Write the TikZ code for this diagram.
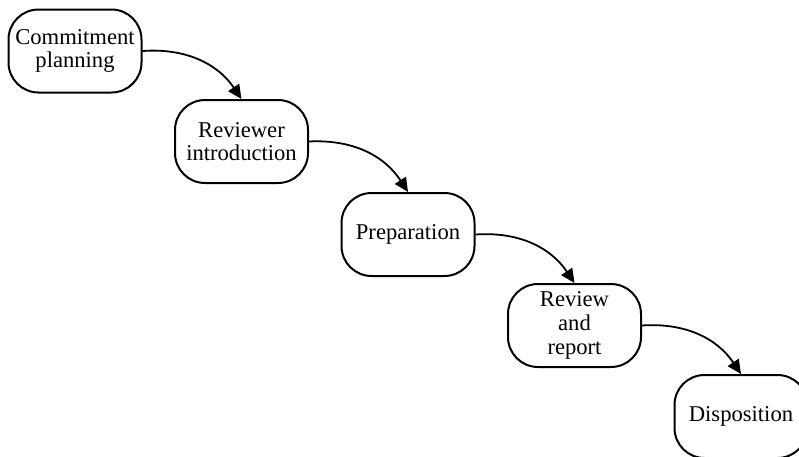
\documentclass[tikz,border=0pt]{standalone}
\usepackage{fontspec}
\setmainfont{Liberation Serif}
\usetikzlibrary{arrows.meta,positioning}
\tikzset{
  phase/.style={draw, line width=1pt, rounded corners=15pt, minimum width=66.5pt,
    minimum height=41.5pt, align=center, font=\fontsize{11.3}{11.8}\selectfont, inner sep=2pt},
  flow/.style={-{Triangle[length=7pt, width=6.5pt]}, line width=0.9pt, bend left=30}
}
\begin{document}
\begin{tikzpicture}[x=0.5pt, y=-0.5pt]
    \useasboundingbox (0,0) rectangle (799,456);
    \node[phase] (commit) at (75,51) {Commitment\\planning};
    \node[phase] (intro) at (241.5,141.5) {Reviewer\\introduction};
    \node[phase] (prep) at (408,234.5) {Preparation};
    \node[phase] (review) at (574.5,325.5) {Review\\and\\report};
    \node[phase] (dispo) at (741,416.5) {Disposition};
    \draw[flow] (commit.east) to (intro.north);
    \draw[flow] (intro.east) to (prep.north);
    \draw[flow] (prep.east) to (review.north);
    \draw[flow] (review.east) to (dispo.north);
  \end{tikzpicture}
\end{document}
